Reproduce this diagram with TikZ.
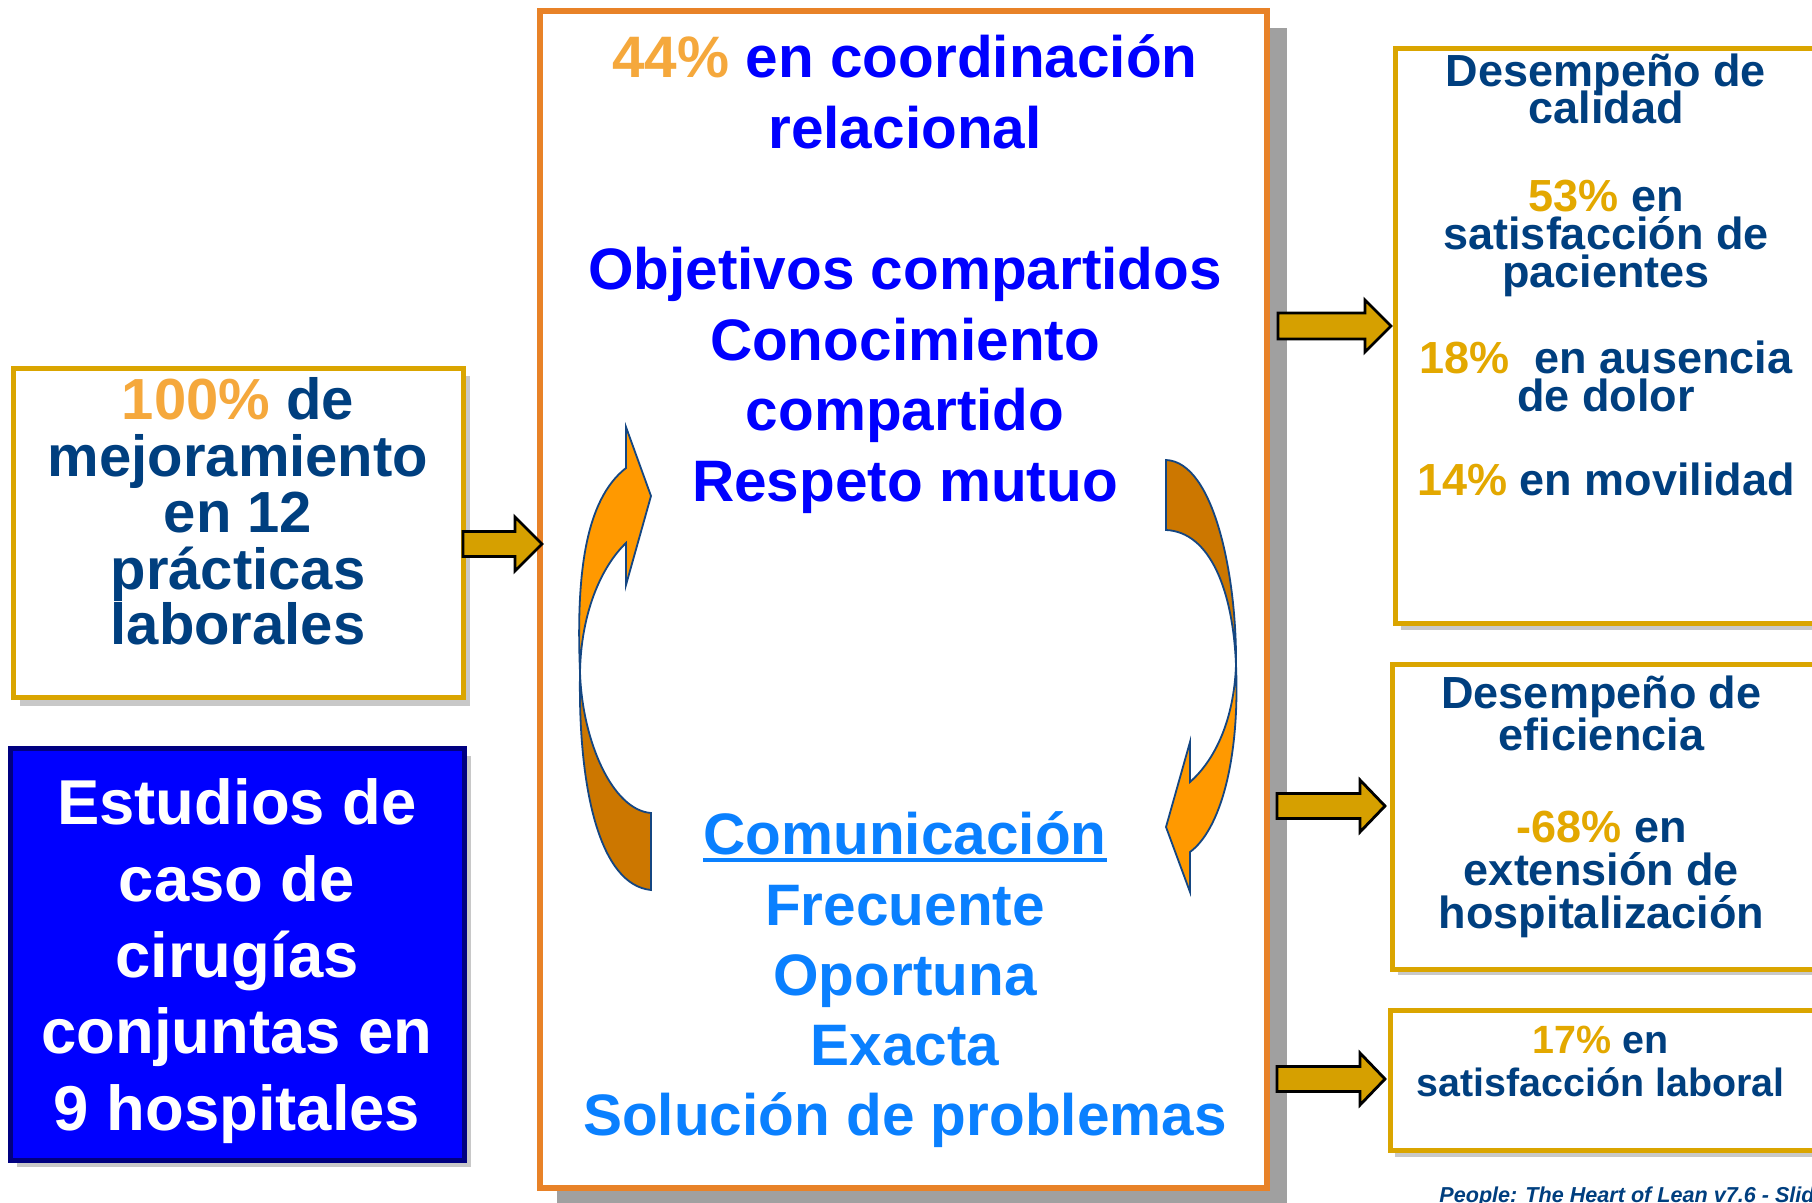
\documentclass[tikz,border=0pt]{standalone}
\usepackage{fontspec}
\setmainfont{Liberation Sans}
\definecolor{navy}{RGB}{0,63,127}
\definecolor{goldpct}{RGB}{227,168,0}
\definecolor{orpct}{RGB}{245,168,60}
\definecolor{goldline}{RGB}{218,165,0}
\definecolor{goldfill}{RGB}{214,160,0}
\definecolor{pureblue}{RGB}{0,0,255}
\definecolor{lightblue}{RGB}{10,128,255}
\definecolor{frameor}{RGB}{232,130,40}
\definecolor{shadowgray}{RGB}{160,160,160}
\definecolor{lightshadow}{RGB}{200,200,200}
\definecolor{arrowor}{RGB}{255,153,0}
\definecolor{arrowbr}{RGB}{204,119,0}
\definecolor{arrowedge}{RGB}{20,70,130}
\definecolor{darknavy}{RGB}{0,0,128}
\tikzset{
  ctext/.style={inner sep=0, anchor=base, font=\fontsize{29.25}{35}\selectfont\bfseries},
  ltext/.style={inner sep=0, anchor=base, font=\fontsize{29}{35}\selectfont\bfseries, text=navy},
  btext/.style={inner sep=0, anchor=base, font=\fontsize{31.7}{38}\selectfont\bfseries, text=white},
  rtext/.style={inner sep=0, anchor=base, font=\fontsize{22.5}{27}\selectfont\bfseries, text=navy},
  rtextsmall/.style={inner sep=0, anchor=base, font=\fontsize{19.7}{24}\selectfont\bfseries, text=navy},
  goldbox/.style={draw=goldline, line width=2.5pt, fill=white},
  blockarrow/.style={fill=goldfill, draw=black, line width=1.4pt, line join=miter},
  curvedor/.style={fill=arrowor, draw=arrowedge, line width=0.9pt},
  curvedbr/.style={fill=arrowbr, draw=arrowedge, line width=0.9pt},
}
\begin{document}
\begin{tikzpicture}[x=0.5pt,y=-0.5pt]
\useasboundingbox (0,0) rectangle (1812,1203);
\fill[white] (0,0) rectangle (1812,1203);

% central frame with shadow
\fill[shadowgray] (557,28) rectangle (1287,1215);
\draw[frameor, line width=3pt, fill=white] (540,11) rectangle (1267,1188);

% left box 1
\fill[lightshadow] (20,376) rectangle (470,706);
\draw[goldbox] (13,368.5) rectangle (463,698);
% blue box
\fill[lightshadow] (17,756) rectangle (471,1167);
\draw[fill=pureblue, draw=darknavy, line width=2.5pt] (10,749) rectangle (464,1160);

% right boxes
\fill[lightshadow] (1401,54) rectangle (1830,630);
\draw[goldbox] (1395.5,48.5) rectangle (1825,624);
\fill[lightshadow] (1398,670) rectangle (1830,975);
\draw[goldbox] (1392.5,664.5) rectangle (1825,969.5);
\fill[lightshadow] (1395,1015) rectangle (1830,1157);
\draw[goldbox] (1390,1010) rectangle (1825,1150);

% block arrows
\draw[blockarrow] (463,531.5) -- (515,531.5) -- (515,517) -- (542,544) -- (515,571) -- (515,556.5) -- (463,556.5) -- cycle;
\draw[blockarrow] (1278,313) -- (1365,313) -- (1365,300) -- (1391,326) -- (1365,352) -- (1365,339) -- (1278,339) -- cycle;
\draw[blockarrow] (1277,793.5) -- (1360,793.5) -- (1360,780) -- (1385,806) -- (1360,832) -- (1360,818.5) -- (1277,818.5) -- cycle;
\draw[blockarrow] (1277,1066.5) -- (1360,1066.5) -- (1360,1053) -- (1385,1079) -- (1360,1105) -- (1360,1091.5) -- (1277,1091.5) -- cycle;

% curved arrows (left)
\draw[curvedbr] (580,672) .. controls (578,790) and (600,885) .. (651,890) -- (651,813) .. controls (612,810) and (582,740) .. (580,672) -- cycle;
\draw[curvedor] (626,468) -- (626,427) -- (651,496) -- (626,585) -- (626,543) .. controls (600,568) and (581,615) .. (580,672) .. controls (576,575) and (585,500) .. (626,468) -- cycle;
% curved arrows (right)
\draw[curvedbr] (1166,460) .. controls (1215,462) and (1237,580) .. (1236,665) .. controls (1233,590) and (1210,532) .. (1166,530) -- cycle;
\draw[curvedor] (1236,665) .. controls (1240,760) and (1220,830) .. (1190,852) -- (1190,892) -- (1166,827) -- (1190,742) -- (1190,782) .. controls (1215,760) and (1234,720) .. (1236,665) -- cycle;

% central texts
\node[ctext, text=pureblue] (c1) at (905,78) {\textcolor{orpct}{44\%} en coordinación};
\node[ctext, text=pureblue] (c2) at (905,148.5) {relacional};
\node[ctext, text=pureblue] (c3) at (905,290) {Objetivos compartidos};
\node[ctext, text=pureblue] (c4) at (905,360.5) {Conocimiento};
\node[ctext, text=pureblue] (c5) at (905,431) {compartido};
\node[ctext, text=pureblue] (c6) at (905,501.5) {Respeto mutuo};

\node[ctext, text=lightblue] (com) at (905,854) {Comunicación};
\draw[lightblue, line width=2pt] ([yshift=-3pt]com.base west) -- ([yshift=-3pt]com.base east);
\node[ctext, text=lightblue] (d2) at (905,925) {Frecuente};
\node[ctext, text=lightblue] (d3) at (905,995) {Oportuna};
\node[ctext, text=lightblue] (d4) at (905,1065) {Exacta};
\node[ctext, text=lightblue] (d5) at (905,1135) {Solución de problemas};

% left box 1 texts
\node[ltext] (l1) at (238,420) {\textcolor{orpct}{100\%} de};
\node[ltext] (l2) at (238,476.5) {mejoramiento};
\node[ltext] (l3) at (238,533) {en 12};
\node[ltext] (l4) at (238,589.5) {prácticas};
\node[ltext] (l5) at (238,645) {laborales};

% blue box texts
\node[btext] (b1) at (237,824) {Estudios de};
\node[btext] (b2) at (237,901) {caso de};
\node[btext] (b3) at (237,977) {cirugías};
\node[btext] (b4) at (237,1053.5) {conjuntas en};
\node[btext] (b5) at (237,1130) {9 hospitales};

% right box 1 texts
\node[rtext] (r1) at (1606,87) {Desempeño de};
\node[rtext] (r2) at (1606,124) {calidad};
\node[rtext] (r3) at (1606,212) {\textcolor{goldpct}{53\%} en};
\node[rtext] (r4) at (1606,250) {satisfacción de};
\node[rtext] (r5) at (1606,288) {pacientes};
\node[rtext] (r6) at (1606,373.5) {\textcolor{goldpct}{18\%}\ \ en ausencia};
\node[rtext] (r7) at (1606,411.5) {de dolor};
\node[rtext] (r8) at (1606,496) {\textcolor{goldpct}{14\%} en movilidad};

% right box 2 texts
\node[rtext] (s1) at (1601.5,708.5) {Desempeño de};
\node[rtext] (s2) at (1601.5,751) {eficiencia};
\node[rtext] (s3) at (1601.5,842.5) {\textcolor{goldpct}{-68\%} en};
\node[rtext] (s4) at (1601.5,885) {extensión de};
\node[rtext] (s5) at (1601.5,928) {hospitalización};

% right box 3 texts
\node[rtextsmall] (t1) at (1600.5,1053.5) {\textcolor{goldpct}{17\%} en};
\node[rtextsmall] (t2) at (1600.5,1096) {satisfacción laboral};

% footer
\node[inner sep=0, anchor=base west, font=\fontsize{10.8}{13}\selectfont\bfseries\itshape, text=navy] (foot) at (1439,1202) {People: The Heart of Lean v7.6 - Slide};
\end{tikzpicture}
\end{document}
